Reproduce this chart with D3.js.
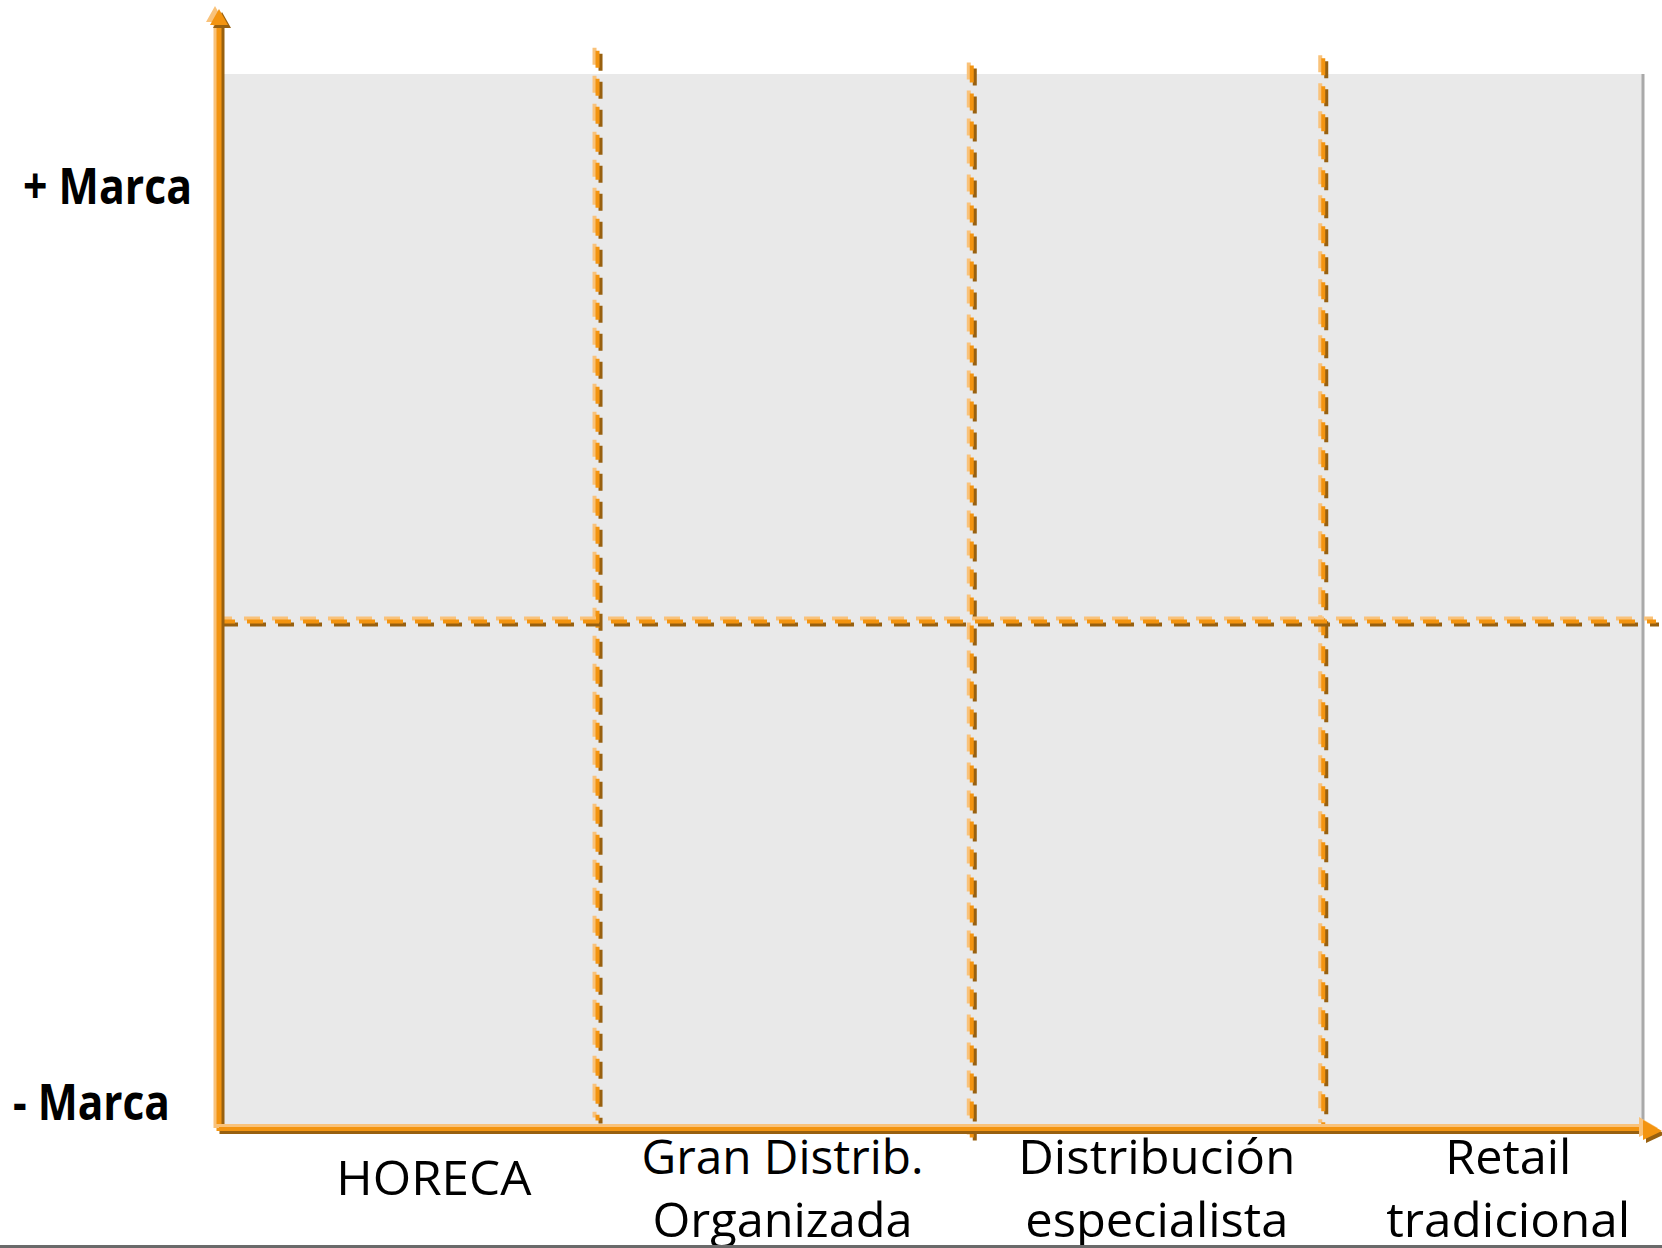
<!DOCTYPE html>
<html>
<head>
<meta charset="utf-8">
<script src="https://cdn.jsdelivr.net/npm/d3@7"></script>
<style>
  html, body { margin: 0; padding: 0; background: #ffffff; }
  svg { display: block; }
</style>
</head>
<body>
<svg id="chart" width="1662" height="1248"></svg>
<script>
// Channel categories (x) and their centre positions on a 0–100 scale
const categoryLines = [["HORECA"], ["Gran Distrib.", "Organizada"], ["Distribución", "especialista"], ["Retail", "tradicional"]];
const categoryCenters = [15.1, 39.6, 65.9, 90.6];

// Column dividers on the same 0–100 scale, with their vertical extents
const dividers = [26.6, 52.9, 77.6];
const dividerTop = [102.2, 100.8, 101.5];
const dividerBottom = [0.8, -0.8, 0.3];

// Brand axis: labels and level of the horizontal split
const brandLabels = ["+ Marca", "- Marca"];
const brandLevels = [89.4, 2.6];
const midLevel = 48.1;

const W = 1662, H = 1248;
const svg = d3.select("#chart");

const x = d3.scaleLinear().domain([0, 100]).range([219, 1642]);
const y = d3.scaleLinear().domain([0, 100]).range([1129, 74]);

const LIGHT = "#f9c27a", MAIN = "#f39410", DARK = "#98600f";
const FONT = "'Open Sans', 'Noto Sans', sans-serif";

// Grey plotting panel with a darker right edge
svg.append("rect")
  .attr("x", x(0) + 3).attr("y", y(100))
  .attr("width", x(100) - x(0) - 3).attr("height", y(0) - y(100) - 4)
  .attr("fill", "#e9e9e9");
svg.append("line")
  .attr("x1", x(100) + 1).attr("x2", x(100) + 1)
  .attr("y1", y(100)).attr("y2", y(0) - 5)
  .attr("stroke", "#a9a9a9").attr("stroke-width", 3);

// Three-tone line: highlight above-left, orange core, shadow below-right
function bevelLine(g, x1, y1, x2, y2, dash, w) {
  const layers = [
    { dx: -3, dy: -3, c: LIGHT },
    { dx: 3, dy: 3, c: DARK },
    { dx: 0, dy: 0, c: MAIN }
  ];
  layers.forEach(l => {
    g.append("line")
      .attr("x1", x1 + l.dx).attr("y1", y1 + l.dy)
      .attr("x2", x2 + l.dx).attr("y2", y2 + l.dy)
      .attr("stroke", l.c)
      .attr("stroke-width", w)
      .attr("stroke-dasharray", dash || null);
  });
}

function bevelTriangle(g, pts) {
  const layers = [
    { dx: -4, dy: -3, c: LIGHT },
    { dx: 3, dy: 3, c: DARK },
    { dx: 0, dy: 0, c: MAIN }
  ];
  layers.forEach(l => {
    g.append("polygon")
      .attr("points", pts.map(p => [p[0] + l.dx, p[1] + l.dy].join(",")).join(" "))
      .attr("fill", l.c);
  });
}

// Dashed grid: column dividers and the brand split
const grid = svg.append("g");
dividers.forEach((d, i) => {
  bevelLine(grid, x(d), y(dividerTop[i]), x(d), y(dividerBottom[i]), "17,11", 4);
});
bevelLine(grid, x(0), y(midLevel), x(100) + 14, y(midLevel), "16,12", 4);

// Axes with arrowheads
const axes = svg.append("g");
bevelLine(axes, x(0), y(0) + 2, x(0), y(100) - 50, null, 5);
bevelLine(axes, x(0), y(0), x(100) + 2, y(0), null, 4);
bevelTriangle(axes, [[x(0), y(100) - 65], [x(0) - 9, y(100) - 49], [x(0) + 9, y(100) - 49]]);
bevelTriangle(axes, [[W, y(0) + 2], [x(100) + 1, y(0) - 9], [x(100) + 1, y(0) + 11]]);

// Brand labels on the left
const yLabelStart = [23, 13];
const yLabelWidth = [169, 157];
svg.append("g").selectAll("text")
  .data(brandLabels)
  .join("text")
  .attr("x", (d, i) => yLabelStart[i])
  .attr("y", (d, i) => y(brandLevels[i]) + 18)
  .attr("font-family", FONT)
  .attr("font-weight", 700)
  .attr("font-size", 50)
  .attr("fill", "#000")
  .attr("textLength", (d, i) => yLabelWidth[i])
  .attr("lengthAdjust", "spacingAndGlyphs")
  .text(d => d);

// Channel labels under the x axis
const lineWidths = [[195], [282, 260], [277, 263], [126, 244]];
const catG = svg.append("g");
categoryLines.forEach((lines, i) => {
  lines.forEach((t, j) => {
    const base = lines.length === 1 ? 1195 : (j === 0 ? 1174 : 1237);
    catG.append("text")
      .attr("x", x(categoryCenters[i]))
      .attr("y", base)
      .attr("text-anchor", "middle")
      .attr("font-family", FONT)
      .attr("font-size", 48)
      .attr("fill", "#000")
      .attr("textLength", lineWidths[i][j])
      .attr("lengthAdjust", "spacingAndGlyphs")
      .text(t);
  });
});

// Footer rule
svg.append("rect")
  .attr("x", 0).attr("y", H - 3)
  .attr("width", W).attr("height", 3)
  .attr("fill", "#6a6a6a");
</script>
</body>
</html>
